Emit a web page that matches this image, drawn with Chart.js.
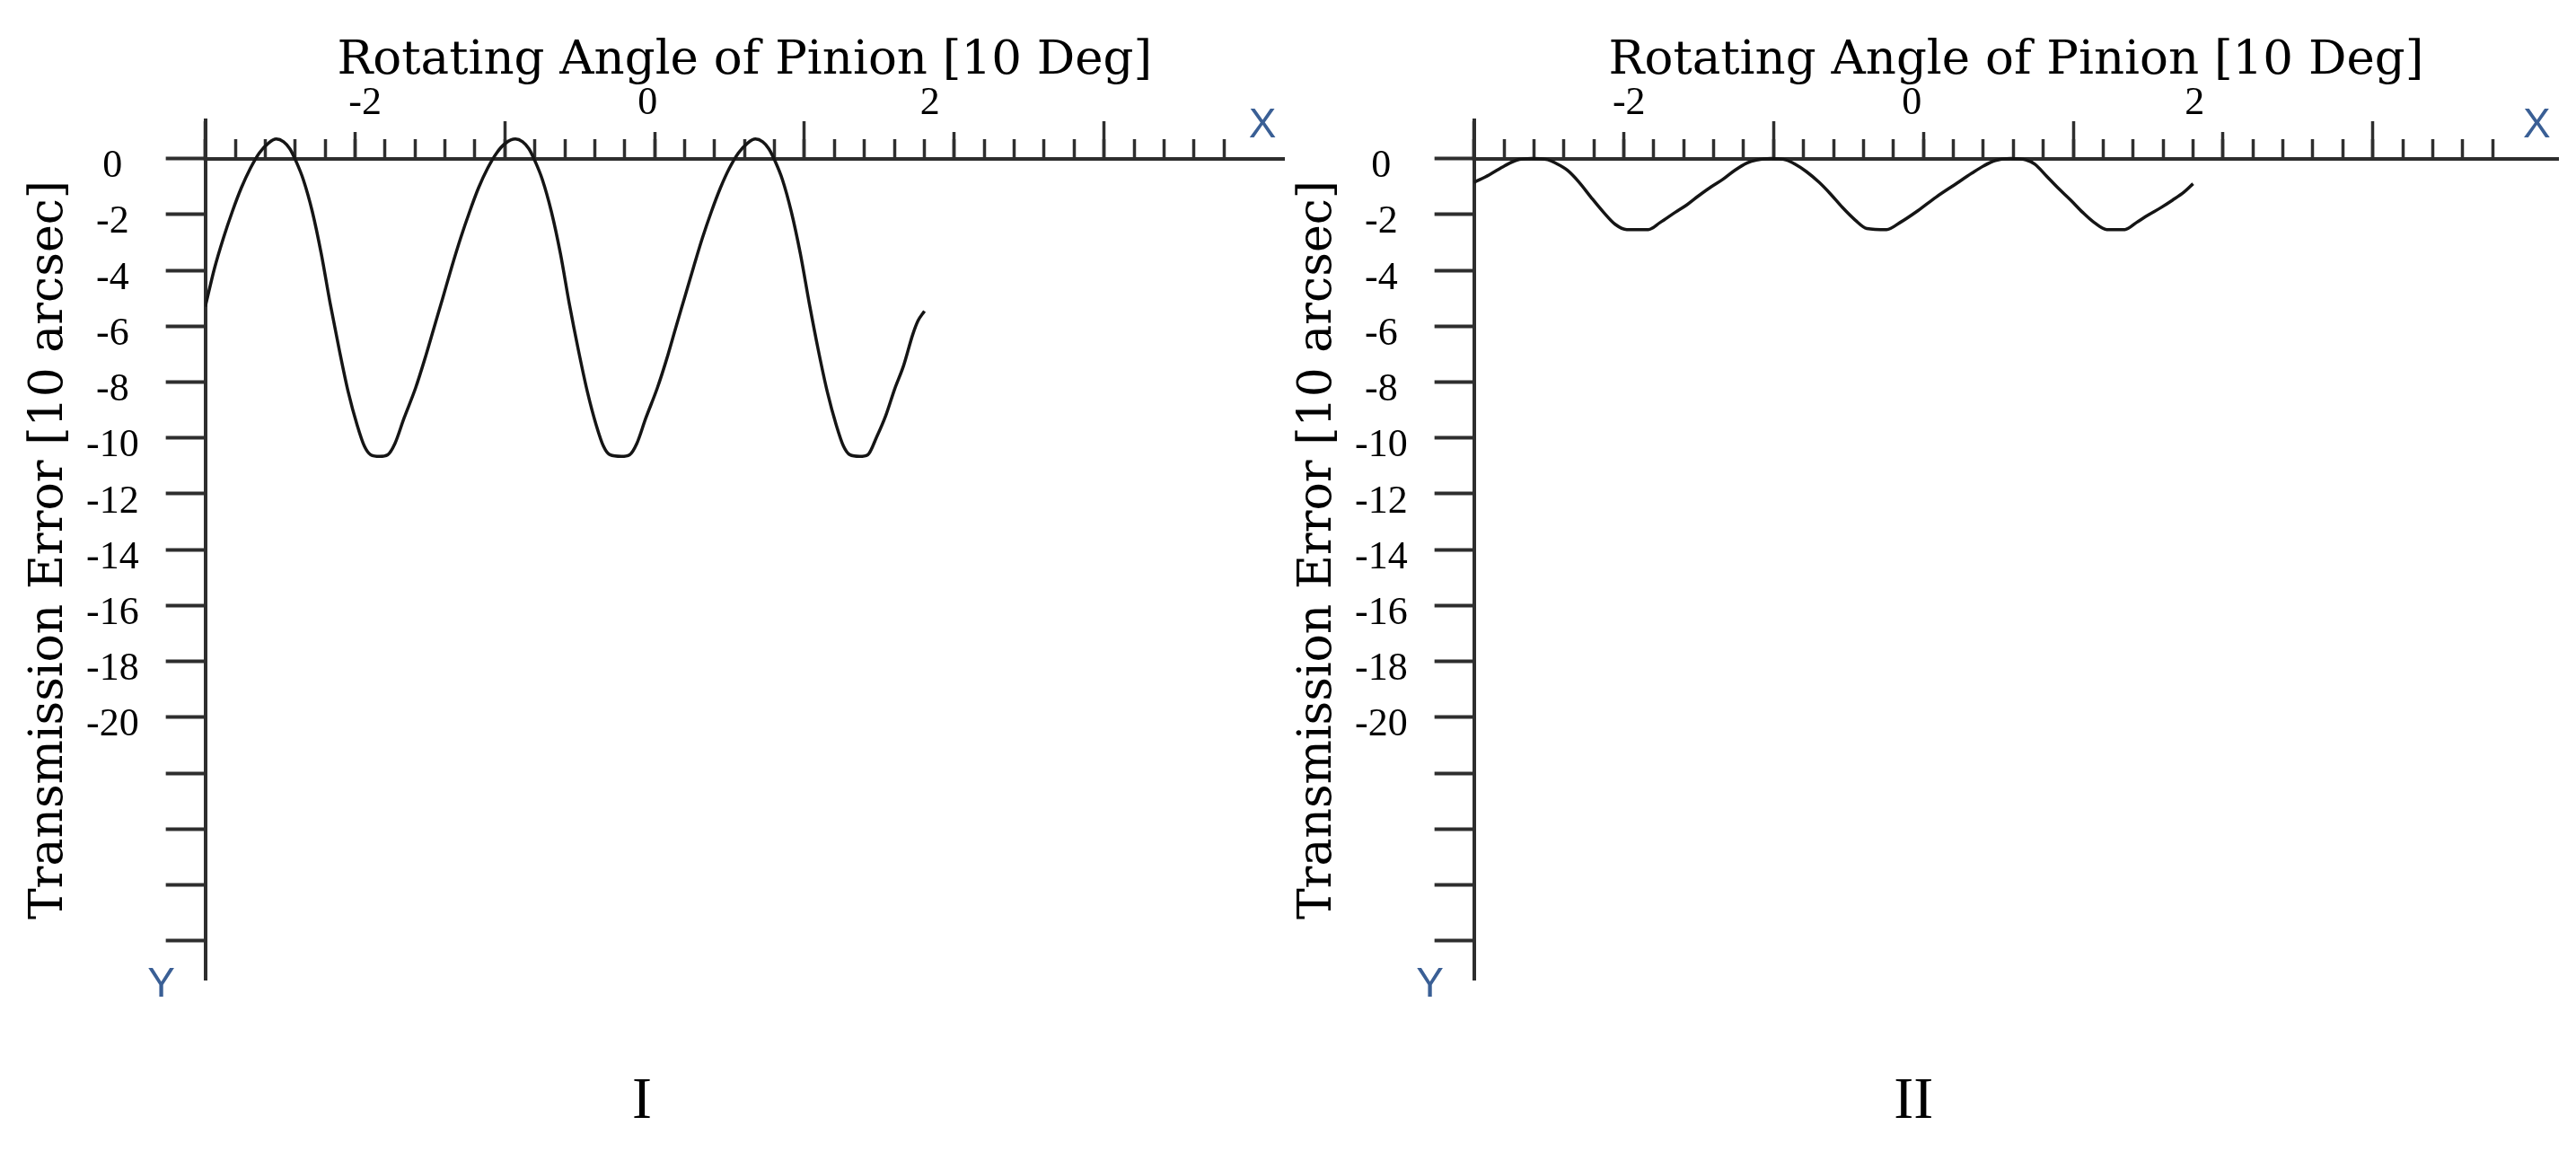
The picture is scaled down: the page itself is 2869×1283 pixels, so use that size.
<!DOCTYPE html>
<html>
<head>
<meta charset="utf-8">
<title>Transmission Error I / II</title>
<script src="https://cdn.jsdelivr.net/npm/chart.js@4.4.1/dist/chart.umd.min.js"></script>
<style>
  html, body { margin: 0; padding: 0; background: #fff; overflow: hidden; width: 2869px; height: 1283px; }
  .panel { position: absolute; top: 0; }
</style>
</head>
<body>
<div class="panel" style="left:0px"><canvas id="chartI" width="1452" height="1283"></canvas></div>
<div class="panel" style="left:1413px"><canvas id="chartII" width="1460" height="1283"></canvas></div>
<script>
// Panel I: rotating angle [10 deg] vs transmission error [10 arcsec]
const angleI = [
  -3.132, -3.068, -3.004, -2.941, -2.877, -2.813, -2.750, -2.686, -2.629, -2.578,
  -2.533, -2.489, -2.438, -2.374, -2.311, -2.247, -2.183, -2.120, -2.056, -2.005,
  -1.961, -1.897, -1.840, -1.789, -1.725, -1.642, -1.579, -1.515, -1.451, -1.388,
  -1.324, -1.260, -1.197, -1.133, -1.069, -1.006, -0.936, -0.885, -0.840, -0.796,
  -0.745, -0.681, -0.617, -0.554, -0.490, -0.426, -0.363, -0.312, -0.267, -0.185,
  -0.127, -0.076, -0.013, 0.070, 0.134, 0.197, 0.261, 0.325, 0.388, 0.452,
  0.516, 0.579, 0.643, 0.707, 0.764, 0.815, 0.859, 0.904, 0.955, 1.018,
  1.082, 1.146, 1.209, 1.273, 1.337, 1.388, 1.432, 1.502, 1.560, 1.623,
  1.687, 1.750, 1.814, 1.878, 1.916, 1.961
];
const errorI = [
  -5.3, -3.95, -2.85, -1.9, -1.05, -0.35, 0.2, 0.55, 0.7, 0.6,
  0.35, -0.1, -0.75, -1.9, -3.4, -5.2, -6.85, -8.35, -9.55, -10.3,
  -10.6, -10.66, -10.6, -10.2, -9.3, -8.2, -7.2, -6.1, -5.0, -3.9,
  -2.85, -1.9, -1.05, -0.35, 0.2, 0.55, 0.7, 0.6, 0.35, -0.1,
  -0.75, -1.9, -3.4, -5.2, -6.85, -8.35, -9.55, -10.3, -10.6, -10.66,
  -10.6, -10.2, -9.3, -8.2, -7.2, -6.1, -5.0, -3.9, -2.85, -1.9,
  -1.05, -0.35, 0.2, 0.55, 0.7, 0.6, 0.35, -0.1, -0.75, -1.9,
  -3.4, -5.2, -6.85, -8.35, -9.55, -10.3, -10.6, -10.66, -10.6, -9.96,
  -9.2, -8.25, -7.4, -6.3, -5.8, -5.46
];

// Panel II
const angleII = [
  -3.096, -2.988, -2.880, -2.797, -2.689, -2.575, -2.524, -2.435, -2.352, -2.269,
  -2.180, -2.098, -2.015, -1.863, -1.780, -1.672, -1.589, -1.507, -1.418, -1.335,
  -1.252, -1.163, -1.100, -0.998, -0.890, -0.826, -0.744, -0.655, -0.572, -0.490,
  -0.400, -0.318, -0.178, -0.083, 0.045, 0.172, 0.299, 0.426, 0.509, 0.591,
  0.699, 0.807, 0.871, 0.954, 1.036, 1.125, 1.208, 1.291, 1.380, 1.507,
  1.589, 1.672, 1.761, 1.844, 1.926, 1.990
];
const errorII = [
  -0.85, -0.58, -0.26, -0.06, 0.0, -0.04, -0.15, -0.42, -0.85, -1.38,
  -1.92, -2.35, -2.54, -2.54, -2.29, -1.92, -1.65, -1.33, -1.01, -0.74,
  -0.42, -0.15, -0.05, 0.0, -0.05, -0.2, -0.47, -0.85, -1.28, -1.75,
  -2.2, -2.5, -2.54, -2.29, -1.86, -1.38, -0.95, -0.52, -0.26, -0.07,
  0.0, -0.05, -0.2, -0.63, -1.06, -1.49, -1.92, -2.29, -2.54, -2.54,
  -2.29, -2.02, -1.76, -1.49, -1.2, -0.9
];

const xTickLabels = [-2, 0, 2];
const yTickValues = [0, -2, -4, -6, -8, -10, -12, -14, -16, -18, -20, -22, -24, -26, -28];
const yTickLabels = ['0', '-2', '-4', '-6', '-8', '-10', '-12', '-14', '-16', '-18', '-20', '', '', '', ''];

const AXIS_COLOR = '#2e2e2e';
const CURVE_COLOR = '#151515';
const SERIF = "'Liberation Serif', 'Times New Roman', serif";
const TITLE_SERIF = "'DejaVu Serif', serif";

// the ruler on the zero line: 35 marks, long every 10th, medium every 5th
function markValues(xMin, step, keep) {
  const out = [];
  for (let k = 0; k <= 34; k++) {
    if (keep(k)) out.push(xMin + k * step);
  }
  return out;
}

function rulerAxis(values, length, withBorder, xMin, xMax) {
  return {
    type: 'linear',
    axis: 'x',
    position: { y: 0 },
    min: xMin,
    max: xMax,
    afterBuildTicks: (axis) => { axis.ticks = values.map(v => ({ value: v })); },
    ticks: { display: false },
    grid: {
      display: true,
      drawOnChartArea: false,
      drawTicks: true,
      tickLength: -length,
      tickWidth: 3.5,
      tickColor: AXIS_COLOR
    },
    border: { display: withBorder, width: 4, color: AXIS_COLOR }
  };
}

const axisLetters = {
  id: 'axisLetters',
  afterDraw(chart) {
    const { ctx, chartArea, scales } = chart;
    ctx.save();
    ctx.font = "46px 'Liberation Sans', Arial, sans-serif";
    ctx.fillStyle = '#3a5f95';
    ctx.textAlign = 'center';
    ctx.textBaseline = 'middle';
    ctx.fillText('X', chartArea.right - 24, scales.y.getPixelForValue(0) - 36);
    ctx.fillText('Y', chartArea.left - 49, chartArea.bottom + 6);
    ctx.restore();
  }
};

function buildPanel(canvasId, panel) {
  const ctx = document.getElementById(canvasId).getContext('2d');
  const { xMin, xMax, step } = panel;

  return new Chart(ctx, {
    type: 'line',
    data: {
      datasets: [{
        label: 'Transmission Error',
        data: panel.angle.map((a, i) => ({ x: a, y: panel.error[i] })),
        borderColor: CURVE_COLOR,
        borderWidth: 3.5,
        pointRadius: 0,
        fill: false,
        cubicInterpolationMode: 'monotone'
      }]
    },
    options: {
      responsive: false,
      animation: false,
      layout: { padding: { top: 0, left: 0, right: panel.padRight, bottom: 0 } },
      plugins: {
        legend: { display: false },
        tooltip: { enabled: false },
        title: {
          display: true,
          position: 'bottom',
          text: panel.caption,
          color: '#000',
          font: { family: SERIF, size: 66, weight: 'normal', lineHeight: 1 },
          padding: { top: 104, bottom: 22 }
        }
      },
      scales: {
        x: {
          type: 'linear',
          position: 'top',
          min: xMin,
          max: xMax,
          afterBuildTicks: (axis) => { axis.ticks = xTickLabels.map(v => ({ value: v })); },
          ticks: {
            color: '#000',
            font: { family: SERIF, size: 44 },
            padding: -7.4,
            maxRotation: 0,
            autoSkip: false
          },
          grid: { display: false, drawTicks: false },
          border: { display: false },
          title: {
            display: true,
            text: 'Rotating Angle of Pinion [10 Deg]',
            color: '#000',
            font: { family: TITLE_SERIF, size: 53, lineHeight: 1 },
            padding: { top: 42, bottom: 1 }
          }
        },
        xMinor: rulerAxis(markValues(xMin, step, () => true), 24, true, xMin, xMax),
        xMid: rulerAxis(markValues(xMin, step, k => k % 10 === 5), 30, false, xMin, xMax),
        xMajor: rulerAxis(markValues(xMin, step, k => k % 10 === 0), 42, false, xMin, xMax),
        y: {
          type: 'linear',
          position: 'left',
          min: -29.39,
          max: 1.37,
          afterBuildTicks: (axis) => { axis.ticks = yTickValues.map(v => ({ value: v })); },
          ticks: {
            color: '#000',
            font: { family: SERIF, size: 44 },
            padding: 30,
            crossAlign: 'center',
            labelOffset: 9,
            autoSkip: false,
            callback: (value, index) => yTickLabels[index]
          },
          grid: {
            drawOnChartArea: false,
            drawTicks: true,
            tickLength: 44,
            tickWidth: 4,
            tickColor: AXIS_COLOR
          },
          border: { display: true, width: 4, color: AXIS_COLOR },
          title: {
            display: true,
            text: 'Transmission Error [10 arcsec]',
            color: '#000',
            font: { family: TITLE_SERIF, size: 52, lineHeight: 1 },
            padding: { top: 29, bottom: -15 }
          }
        }
      }
    },
    plugins: [axisLetters]
  });
}

buildPanel('chartI', {
  angle: angleI, error: errorI, caption: 'I',
  xMin: -3.132, xMax: 4.507, step: 0.21217, padRight: 22
});

buildPanel('chartII', {
  angle: angleII, error: errorII, caption: 'II',
  xMin: -3.096, xMax: 4.573, step: 0.21190, padRight: 23.7
});
</script>
</body>
</html>
